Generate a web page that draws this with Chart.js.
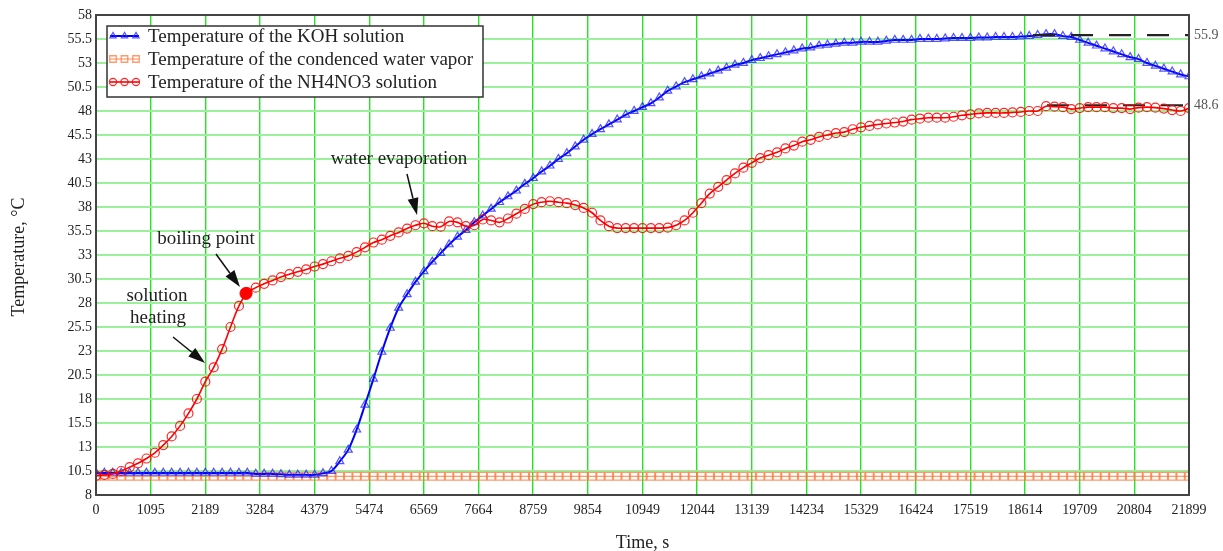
<!DOCTYPE html>
<html>
<head>
<meta charset="utf-8">
<script src="https://cdn.jsdelivr.net/npm/chart.js@4/dist/chart.umd.min.js"></script>
<style>
  html, body { margin: 0; background: #fff; }
  canvas { display: block; }
</style>
</head>
<body>
<canvas id="chart" width="1223" height="551"></canvas>
<script>
const TIME_S = [
  0, 168, 337, 505, 674, 842, 1011, 1179, 1348, 1516,
  1685, 1853, 2021, 2190, 2358, 2527, 2695, 2864, 3032, 3201,
  3369, 3538, 3706, 3874, 4043, 4211, 4380, 4548, 4717, 4885,
  5054, 5222, 5390, 5559, 5727, 5896, 6064, 6233, 6401, 6570,
  6738, 6907, 7075, 7243, 7412, 7580, 7749, 7917, 8086, 8254,
  8423, 8591, 8760, 8928, 9096, 9265, 9433, 9602, 9770, 9939,
  10107, 10276, 10444, 10613, 10781, 10949, 11118, 11286, 11455, 11623,
  11792, 11960, 12129, 12297, 12466, 12634, 12802, 12971, 13139, 13308,
  13476, 13645, 13813, 13982, 14150, 14319, 14487, 14655, 14824, 14992,
  15161, 15329, 15498, 15666, 15835, 16003, 16172, 16340, 16508, 16677,
  16845, 17014, 17182, 17351, 17519, 17688, 17856, 18025, 18193, 18362,
  18530, 18698, 18867, 19035, 19204, 19372, 19541, 19709, 19878, 20046,
  20215, 20383, 20551, 20720, 20888, 21057, 21225, 21394, 21562, 21731,
  21899,
];

const KOH_TEMP = [
  10.3, 10.3, 10.3, 10.3, 10.3, 10.3, 10.3, 10.3, 10.3, 10.3,
  10.3, 10.3, 10.3, 10.3, 10.3, 10.3, 10.3, 10.3, 10.3, 10.2,
  10.2, 10.2, 10.15, 10.1, 10.1, 10.1, 10.1, 10.25, 10.5, 11.5,
  12.7, 14.8, 17.4, 20.1, 22.9, 25.4, 27.5, 28.9, 30.2, 31.3,
  32.3, 33.2, 34.1, 34.9, 35.6, 36.4, 37.1, 37.8, 38.5, 39.1,
  39.7, 40.4, 41.0, 41.7, 42.3, 43.0, 43.6, 44.3, 45.0, 45.6,
  46.1, 46.6, 47.1, 47.6, 48.0, 48.4, 48.8, 49.4, 50.1, 50.55,
  51.0, 51.3, 51.6, 51.9, 52.2, 52.5, 52.8, 53.0, 53.3, 53.5,
  53.7, 53.9, 54.1, 54.3, 54.5, 54.6, 54.8, 54.9, 55.0, 55.1,
  55.1, 55.2, 55.2, 55.2, 55.3, 55.4, 55.4, 55.4, 55.5, 55.5,
  55.5, 55.55, 55.6, 55.6, 55.6, 55.65, 55.65, 55.7, 55.7, 55.7,
  55.75, 55.8, 55.9, 56.0, 56.0, 55.8, 55.7, 55.4, 55.1, 54.8,
  54.5, 54.2, 53.9, 53.6, 53.4, 53.0, 52.7, 52.4, 52.1, 51.8,
  51.6,
];

const VAPOR_TEMP = [
  9.95, 9.95, 9.95, 9.95, 9.95, 9.95, 9.95, 9.95, 9.95, 9.95,
  9.95, 9.95, 9.95, 9.95, 9.95, 9.95, 9.95, 9.95, 9.95, 9.95,
  9.95, 9.95, 9.95, 9.95, 9.95, 9.95, 9.95, 9.95, 9.95, 9.95,
  9.95, 9.95, 9.95, 9.95, 9.95, 9.95, 9.95, 9.95, 9.95, 9.95,
  9.95, 9.95, 9.95, 9.95, 9.95, 9.95, 9.95, 9.95, 9.95, 9.95,
  9.95, 9.95, 9.95, 9.95, 9.95, 9.95, 9.95, 9.95, 9.95, 9.95,
  9.95, 9.95, 9.95, 9.95, 9.95, 9.95, 9.95, 9.95, 9.95, 9.95,
  9.95, 9.95, 9.95, 9.95, 9.95, 9.95, 9.95, 9.95, 9.95, 9.95,
  9.95, 9.95, 9.95, 9.95, 9.95, 9.95, 9.95, 9.95, 9.95, 9.95,
  9.95, 9.95, 9.95, 9.95, 9.95, 9.95, 9.95, 9.95, 9.95, 9.95,
  9.95, 9.95, 9.95, 9.95, 9.95, 9.95, 9.95, 9.95, 9.95, 9.95,
  9.95, 9.95, 9.95, 9.95, 9.95, 9.95, 9.95, 9.95, 9.95, 9.95,
  9.95, 9.95, 9.95, 9.95, 9.95, 9.95, 9.95, 9.95, 9.95, 9.95,
  9.95,
];

const NH4NO3_TEMP = [
  10.0, 10.1, 10.2, 10.5, 10.9, 11.3, 11.8, 12.4, 13.2, 14.1,
  15.2, 16.5, 18.0, 19.8, 21.3, 23.2, 25.5, 27.7, 29.1, 29.6,
  30.0, 30.35, 30.7, 31.0, 31.25, 31.5, 31.8, 32.05, 32.35, 32.65,
  32.9, 33.3, 33.8, 34.3, 34.6, 35.0, 35.35, 35.75, 36.1, 36.3,
  36.0, 35.95, 36.5, 36.4, 36.0, 36.1, 36.7, 36.6, 36.4, 36.8,
  37.3, 37.8, 38.3, 38.5, 38.6, 38.5, 38.4, 38.2, 37.9, 37.4,
  36.6, 36.0, 35.8, 35.8, 35.8, 35.8, 35.8, 35.8, 35.85, 36.1,
  36.6, 37.4, 38.4, 39.4, 40.1, 40.8, 41.5, 42.1, 42.6, 43.1,
  43.4, 43.7, 44.1, 44.4, 44.8, 45.0, 45.3, 45.5, 45.7, 45.8,
  46.1, 46.3, 46.45, 46.6, 46.7, 46.8, 46.9, 47.1, 47.2, 47.3,
  47.3, 47.3, 47.4, 47.55, 47.65, 47.75, 47.8, 47.8, 47.8, 47.85,
  47.9, 48.0, 48.0, 48.5, 48.45, 48.4, 48.2, 48.3, 48.4, 48.4,
  48.4, 48.3, 48.3, 48.2, 48.35, 48.4, 48.35, 48.25, 48.1, 48.0,
  48.3,
];

const X_TICKS = [0, 1095, 2189, 3284, 4379, 5474, 6569, 7664, 8759, 9854, 10949,
  12044, 13139, 14234, 15329, 16424, 17519, 18614, 19709, 20804, 21899];
const Y_TICKS = [8, 10.5, 13, 15.5, 18, 20.5, 23, 25.5, 28, 30.5, 33, 35.5, 38,
  40.5, 43, 45.5, 48, 50.5, 53, 55.5, 58];

const BOILING_POINT = { t: 3005, temp: 29.0 };
const LEVEL_VALUES = [55.9, 48.6];
const LEVEL_STARTS = [18774, 19054];

const SERIF = "'Liberation Serif', 'Times New Roman', serif";

const pairs = (values) => TIME_S.map((t, i) => ({ x: t, y: values[i] }));

// notes drawn on the plot, placed in data units (time, temperature)
const NOTES = [
  { text: 'boiling point', t: 2204, temp: 34.67 },
  { text: 'solution', t: 1222, temp: 28.73 },
  { text: 'heating', t: 1242, temp: 26.44 },
  { text: 'water evaporation', t: 6071, temp: 43.0 },
];
const ARROWS = [
  { from: [2404, 33.1], to: [2885, 29.67] },
  { from: [1543, 24.46], to: [2184, 21.75] },
  { from: [6231, 41.44], to: [6432, 37.17] },
];

const datasets = [
  {
    label: 'Temperature of the NH4NO3 solution',
    data: pairs(NH4NO3_TEMP),
    borderColor: '#ff0000',
    borderWidth: 1.6,
    pointStyle: 'circle',
    pointRadius: 4.5,
    pointBorderWidth: 1.2,
    pointBorderColor: 'rgba(255,0,0,0.85)',
    pointBackgroundColor: 'rgba(0,0,0,0)',
    tension: 0.3,
    order: 1,
  },
  {
    label: 'Temperature of the KOH solution',
    data: pairs(KOH_TEMP),
    borderColor: '#0000ff',
    borderWidth: 2,
    pointStyle: 'triangle',
    pointRadius: 4.6,
    pointBorderWidth: 1.2,
    pointBorderColor: 'rgba(40,40,255,0.8)',
    pointBackgroundColor: 'rgba(0,0,0,0)',
    tension: 0.3,
    order: 3,
  },
  {
    label: 'Temperature of the condenced water vapor',
    data: pairs(VAPOR_TEMP),
    borderColor: 'rgba(255,120,60,0.75)',
    borderWidth: 1.2,
    pointStyle: 'rect',
    pointRadius: 5.4,
    pointBorderWidth: 1.3,
    pointBorderColor: 'rgba(255,120,60,0.75)',
    pointBackgroundColor: 'rgba(0,0,0,0)',
    order: 4,
  },
  {
    label: 'boiling',
    data: [{ x: BOILING_POINT.t, y: BOILING_POINT.temp }],
    showLine: false,
    pointRadius: 6,
    pointBackgroundColor: '#ff0000',
    pointBorderColor: '#ff0000',
    order: 0,
  },
];

LEVEL_VALUES.forEach((level, i) => {
  datasets.push({
    label: 'level ' + level,
    data: [{ x: LEVEL_STARTS[i], y: level }, { x: X_TICKS[X_TICKS.length - 1], y: level }],
    borderColor: '#222',
    borderWidth: i === 0 ? 2.4 : 2,
    borderDash: [22, 16],
    pointRadius: 0,
    order: 2,
  });
});

const legendRows = [
  { ds: 1, y: 36 },
  { ds: 2, y: 59 },
  { ds: 0, y: 82 },
];

const overlayPlugin = {
  id: 'overlay',
  afterDatasetsDraw(chart) {
    const { ctx, scales: { x, y } } = chart;
    ctx.save();

    // annotations
    ctx.fillStyle = '#222';
    ctx.font = `19px ${SERIF}`;
    ctx.textAlign = 'center';
    ctx.textBaseline = 'middle';
    NOTES.forEach((note) => {
      ctx.fillText(note.text, x.getPixelForValue(note.t), y.getPixelForValue(note.temp));
    });
    ctx.strokeStyle = '#111';
    ctx.lineWidth = 1.5;
    ARROWS.forEach((arrow) => {
      const x0 = x.getPixelForValue(arrow.from[0]);
      const y0 = y.getPixelForValue(arrow.from[1]);
      const x1 = x.getPixelForValue(arrow.to[0]);
      const y1 = y.getPixelForValue(arrow.to[1]);
      const ang = Math.atan2(y1 - y0, x1 - x0);
      const head = 17;
      const bx = x1 - head * Math.cos(ang);
      const by = y1 - head * Math.sin(ang);
      ctx.beginPath();
      ctx.moveTo(x0, y0);
      ctx.lineTo(bx, by);
      ctx.stroke();
      ctx.beginPath();
      ctx.moveTo(x1, y1);
      ctx.lineTo(bx + 5.5 * Math.sin(ang), by - 5.5 * Math.cos(ang));
      ctx.lineTo(bx - 5.5 * Math.sin(ang), by + 5.5 * Math.cos(ang));
      ctx.closePath();
      ctx.fillStyle = '#111';
      ctx.fill();
    });

    // legend box
    ctx.fillStyle = '#fff';
    ctx.fillRect(107, 26, 376, 71);
    ctx.strokeStyle = '#333';
    ctx.lineWidth = 1.5;
    ctx.strokeRect(107, 26, 376, 71);
    ctx.textAlign = 'left';
    legendRows.forEach((row) => {
      const ds = chart.data.datasets[row.ds];
      ctx.strokeStyle = ds.borderColor;
      ctx.lineWidth = ds.borderWidth;
      ctx.beginPath();
      ctx.moveTo(110, row.y);
      ctx.lineTo(139, row.y);
      ctx.stroke();
      ctx.strokeStyle = ds.pointBorderColor;
      ctx.fillStyle = 'rgba(0,0,0,0)';
      ctx.lineWidth = ds.pointBorderWidth;
      [113, 124.5, 136].forEach((px) => {
        Chart.helpers.drawPoint(ctx, {
          pointStyle: ds.pointStyle,
          radius: ds.pointStyle === 'rect' ? 4.6 : 3.6,
          borderWidth: ds.pointBorderWidth,
          rotation: 0,
        }, px, row.y);
      });
      ctx.fillStyle = '#222';
      ctx.fillText(ds.label, 148, row.y + 1);
    });
    ctx.restore();
  },
  afterDraw(chart) {
    const { ctx, chartArea: a } = chart;
    ctx.save();
    ctx.strokeStyle = '#444';
    ctx.lineWidth = 2;
    ctx.strokeRect(a.left, a.top, a.right - a.left, a.bottom - a.top);

    ctx.fillStyle = '#222';
    ctx.font = `18px ${SERIF}`;
    ctx.textAlign = 'center';
    ctx.textBaseline = 'middle';
    ctx.fillText('Time, s', (a.left + a.right) / 2, 543);
    ctx.translate(19, (a.top + a.bottom) / 2 + 2);
    ctx.rotate(-Math.PI / 2);
    ctx.fillText('Temperature, \u00b0C', 0, 0);
    ctx.restore();
  },
};

new Chart(document.getElementById('chart'), {
  type: 'line',
  data: { datasets },
  options: {
    responsive: false,
    animation: false,
    devicePixelRatio: 1,
    layout: { padding: { top: 15, left: 0, right: 0, bottom: 0 } },
    plugins: {
      legend: { display: false },
      tooltip: { enabled: false },
    },
    scales: {
      x: {
        type: 'linear',
        min: 0,
        max: 21899,
        afterBuildTicks: (scale) => { scale.ticks = X_TICKS.map((v) => ({ value: v })); },
        afterFit: (scale) => { scale.height = 56; },
        grid: { color: '#22e622', lineWidth: 1.4, drawTicks: false },
        border: { display: false },
        ticks: {
          autoSkip: false,
          maxRotation: 0,
          padding: 7,
          color: '#222',
          font: { family: SERIF, size: 14 },
          callback: (v) => String(v),
        },
      },
      y: {
        type: 'linear',
        position: 'left',
        min: 8,
        max: 58,
        afterBuildTicks: (scale) => { scale.ticks = Y_TICKS.map((v) => ({ value: v })); },
        afterFit: (scale) => { scale.width = 96; },
        grid: { color: '#9cf09c', lineWidth: 2, drawTicks: false },
        border: { display: false },
        ticks: {
          padding: 4,
          color: '#222',
          font: { family: SERIF, size: 14 },
          callback: (v) => String(v),
        },
      },
      level: {
        type: 'linear',
        position: 'right',
        min: 8,
        max: 58,
        afterBuildTicks: (scale) => { scale.ticks = LEVEL_VALUES.map((v) => ({ value: v })); },
        afterFit: (scale) => { scale.width = 34; },
        grid: { display: false, drawTicks: false },
        border: { display: false },
        ticks: {
          padding: 5,
          color: '#555',
          font: { family: SERIF, size: 14 },
          callback: (v) => String(v),
        },
      },
    },
  },
  plugins: [overlayPlugin],
});
</script>
</body>
</html>
